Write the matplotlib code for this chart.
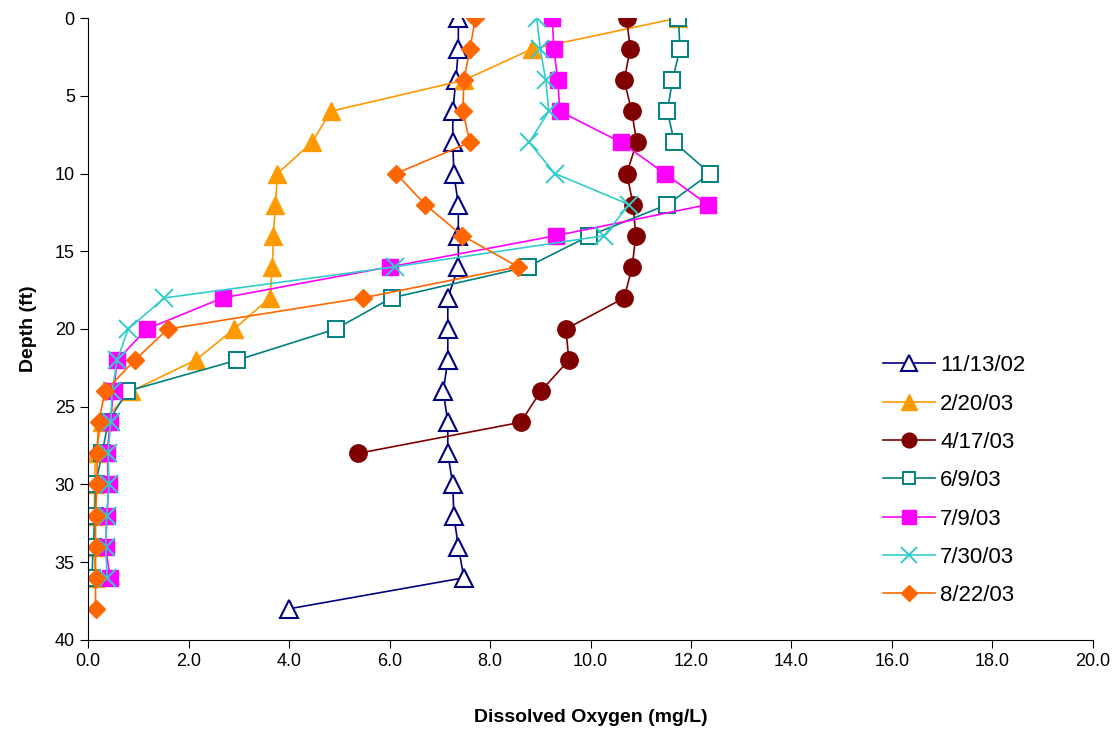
import numpy as np
import matplotlib
matplotlib.use('Agg')
import matplotlib.pyplot as plt

plt.rcParams['font.family'] = ['Liberation Sans', 'DejaVu Sans']

depth = list(range(0, 40, 2))  # 0..38 ft

do_111302 = [7.37, 7.37, 7.32, 7.26, 7.26, 7.28, 7.37, 7.37, 7.37, 7.16,
             7.16, 7.16, 7.07, 7.16, 7.16, 7.26, 7.28, 7.37, 7.48, 3.99]
do_022003 = [11.74, 8.83, 7.48, 4.83, 4.46, 3.77, 3.73, 3.69, 3.67, 3.62,
             2.91, 2.14, 0.86, 0.27, 0.15, 0.13, 0.13, 0.13, 0.14]
do_041703 = [10.72, 10.79, 10.67, 10.82, 10.92, 10.72, 10.85, 10.90, 10.83, 10.67,
             9.51, 9.57, 9.01, 8.61, 5.37]
do_060903 = [11.75, 11.78, 11.63, 11.53, 11.67, 12.38, 11.53, 9.98, 8.75, 6.04,
             4.93, 2.97, 0.78, 0.40, 0.28, 0.15, 0.14, 0.10, 0.08]
do_070903 = [9.24, 9.27, 9.35, 9.39, 10.61, 11.48, 12.33, 9.31, 6.01, 2.68,
             1.17, 0.58, 0.51, 0.44, 0.38, 0.41, 0.38, 0.35, 0.44]
do_073003 = [8.93, 9.00, 9.11, 9.17, 8.78, 9.29, 10.77, 10.27, 6.11, 1.52,
             0.80, 0.58, 0.48, 0.45, 0.40, 0.42, 0.37, 0.35, 0.38]
do_082203 = [7.71, 7.60, 7.48, 7.46, 7.60, 6.13, 6.71, 7.45, 8.56, 5.47,
             1.59, 0.93, 0.34, 0.21, 0.18, 0.18, 0.15, 0.15, 0.15, 0.15]

dates = ['11/13/02', '2/20/03', '4/17/03', '6/9/03', '7/9/03', '7/30/03', '8/22/03']

fig = plt.figure(figsize=(11.17, 7.32), dpi=100)
ax = fig.add_axes([0.0788, 0.1257, 0.8997, 0.8497])

def prof(vals, label, color, marker, ms, fill=True, mew=1.0):
    ax.plot(vals, depth[:len(vals)], color=color, lw=1.2, marker=marker, ms=ms,
            mfc=color if fill else 'white', mec=color, mew=mew, label=label)

prof(do_111302, dates[0], '#000080', '^', 13.5, fill=False, mew=1.5)
prof(do_022003, dates[1], '#FF9900', '^', 13)
prof(do_041703, dates[2], '#800000', 'o', 12.5)
prof(do_060903, dates[3], '#008080', 's', 11, fill=False, mew=1.4)
prof(do_070903, dates[4], '#FF00FF', 's', 12)
prof(do_073003, dates[5], '#33CCCC', 'x', 13, mew=1.4)
prof(do_082203, dates[6], '#FF6600', 'D', 9.5)

ax.set_xlim(0, 20)
ax.set_ylim(40, 0)
ax.set_xticks(np.arange(0, 21, 2))
ax.set_xticklabels(['%.1f' % v for v in np.arange(0, 21, 2)])
ax.set_yticks(np.arange(0, 41, 5))
for s in ['top', 'right']:
    ax.spines[s].set_visible(False)
ax.tick_params(labelsize=13, length=6, direction='out')
ax.set_xlabel('Dissolved Oxygen (mg/L)', fontsize=14, fontweight='bold', labelpad=28)
ax.set_ylabel('Depth (ft)', fontsize=14, fontweight='bold', labelpad=13)

fig.legend(loc='upper left', bbox_to_anchor=(0.773, 0.542), frameon=False,
           fontsize=16, handlelength=2.3, handletextpad=0.25, labelspacing=0.78,
           markerscale=0.85)

plt.savefig('out.png', dpi=100)
